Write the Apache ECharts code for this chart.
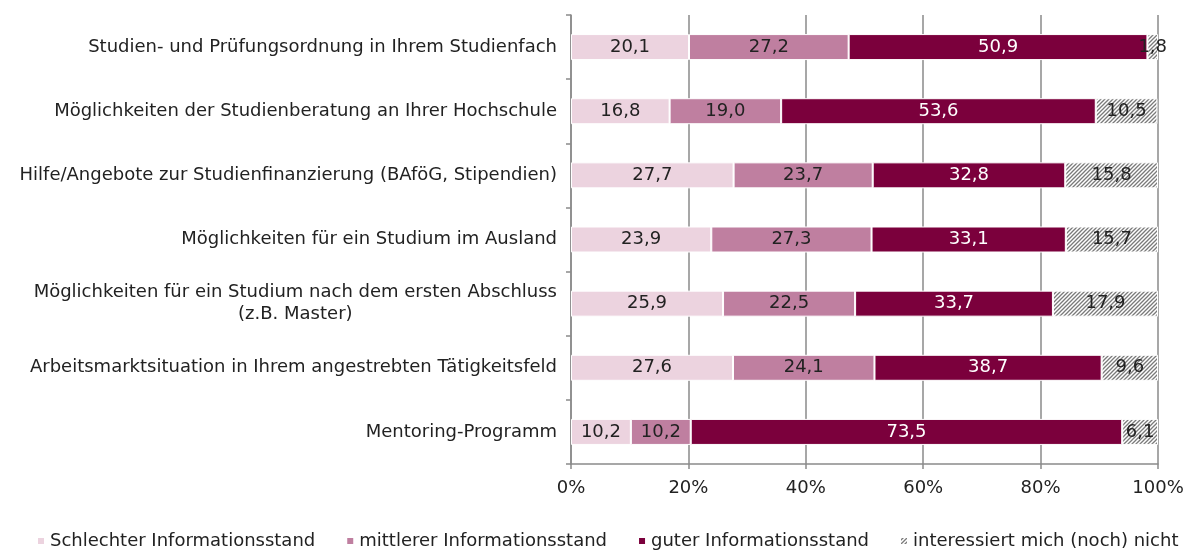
<!DOCTYPE html>
<html>
<head>
<meta charset="utf-8">
<script src="https://cdn.jsdelivr.net/npm/echarts@6/dist/echarts.min.js"></script>
<style>
  html, body { margin: 0; padding: 0; background: #fff; }
  #main { width: 1194px; height: 551px; }
</style>
</head>
<body>
<div id="main"></div>
<script>
// Kategorien (von oben nach unten)
var categories = [
  'Studien- und Prüfungsordnung in Ihrem Studienfach',
  'Möglichkeiten der Studienberatung an Ihrer Hochschule',
  'Hilfe/Angebote zur Studienfinanzierung (BAföG, Stipendien)',
  'Möglichkeiten für ein Studium im Ausland',
  'Möglichkeiten für ein Studium nach dem ersten Abschluss\n(z.B. Master)',
  'Arbeitsmarktsituation in Ihrem angestrebten Tätigkeitsfeld',
  'Mentoring-Programm'
];
var seriesNames = [
  'Schlechter Informationsstand',
  'mittlerer Informationsstand',
  'guter Informationsstand',
  'interessiert mich (noch) nicht'
];
var schlecht = [20.1, 16.8, 27.7, 23.9, 25.9, 27.6, 10.2];
var mittel   = [27.2, 19.0, 23.7, 27.3, 22.5, 24.1, 10.2];
var gut      = [50.9, 53.6, 32.8, 33.1, 33.7, 38.7, 73.5];
var nicht    = [1.8, 10.5, 15.8, 15.7, 17.9, 9.6, 6.1];
var xTicks = [0, 20, 40, 60, 80, 100];

var FONT = 'DejaVu Sans';
var FS = 18;

// Schraffur fuer "interessiert mich nicht"
function hatch() {
  var c = document.createElement('canvas');
  c.width = 4; c.height = 4;
  var ctx = c.getContext('2d');
  ctx.fillStyle = '#fff';
  ctx.fillRect(0, 0, 4, 4);
  ctx.strokeStyle = '#7a7a7a';
  ctx.lineWidth = 1.3;
  ctx.beginPath();
  ctx.moveTo(0, 4); ctx.lineTo(4, 0);
  ctx.moveTo(-1, 1); ctx.lineTo(1, -1);
  ctx.moveTo(3, 5); ctx.lineTo(5, 3);
  ctx.stroke();
  return { image: c, repeat: 'repeat' };
}

var colors = ['#ecd3df', '#bf7fa0', '#7b003c', hatch()];
var labelColors = ['#222', '#222', '#fff', '#222'];
var values = [schlecht, mittel, gut, nicht];

function fmt(p) {
  return p.value.toFixed(1).replace('.', ',');
}

var series = values.map(function (v, i) {
  return {
    name: seriesNames[i],
    type: 'bar',
    stack: 'all',
    data: v,
    barWidth: 26,
    itemStyle: { color: colors[i], borderColor: '#fff', borderWidth: 1 },
    label: {
      show: true,
      position: 'inside',
      formatter: fmt,
      color: labelColors[i],
      fontFamily: FONT,
      fontSize: FS
    }
  };
});

var myChart = echarts.init(document.getElementById('main'));
myChart.setOption({
  animation: false,
  grid: { left: 571, right: 36, top: 15, bottom: 87 },
  legend: {
    data: seriesNames,
    top: 532,
    left: 36,
    padding: 0,
    icon: 'rect',
    itemWidth: 8,
    itemHeight: 8,
    itemGap: 30,
    textStyle: { fontFamily: FONT, fontSize: FS, color: '#222' }
  },
  xAxis: {
    type: 'value',
    min: xTicks[0],
    max: xTicks[xTicks.length - 1],
    interval: 20,
    axisLine: { show: true, lineStyle: { color: '#8a8a8a', width: 1.5 } },
    axisTick: { show: true, length: 5, lineStyle: { color: '#8a8a8a', width: 1.5 } },
    splitLine: { show: true, lineStyle: { color: '#8a8a8a', width: 1.5 } },
    axisLabel: {
      formatter: '{value}%',
      fontFamily: FONT,
      fontSize: FS,
      color: '#222',
      margin: 15
    }
  },
  yAxis: {
    type: 'category',
    inverse: true,
    data: categories,
    axisLine: { show: true, lineStyle: { color: '#8a8a8a', width: 1.5 } },
    axisTick: { show: true, length: 5, lineStyle: { color: '#8a8a8a', width: 1.5 } },
    axisLabel: {
      margin: 14,
      formatter: function (v) {
        return v.split('\n').map(function (s) { return '{c|' + s + '}'; }).join('\n');
      },
      rich: {
        c: { align: 'center', fontFamily: FONT, fontSize: FS, color: '#222', lineHeight: 22 }
      }
    }
  },
  series: series
});
</script>
</body>
</html>
